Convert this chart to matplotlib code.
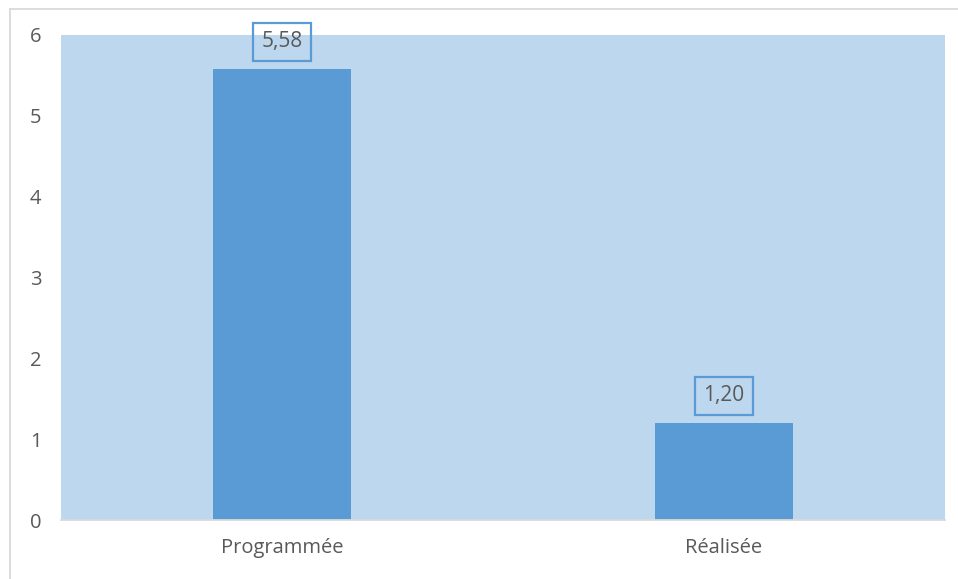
import matplotlib.pyplot as plt
from matplotlib.lines import Line2D

# categories and values
categories = ["Programmée", "Réalisée"]
values = [5.58, 1.20]
value_labels = ["5,58", "1,20"]

BAR = "#5B9BD5"
PLOT_BG = "#BDD7EE"
TEXT = "#595959"
FRAME = "#D9D9D9"

plt.rcParams['font.family'] = ['Open Sans', 'DejaVu Sans']

fig = plt.figure(figsize=(9.58, 5.79), dpi=100)
fig.patch.set_facecolor("white")

# outer chart frame
fig.add_artist(Line2D([10/958, 10/958], [0, 1 - 9/579], transform=fig.transFigure,
                      color=FRAME, lw=1.3))
fig.add_artist(Line2D([10/958, 1], [1 - 9/579, 1 - 9/579], transform=fig.transFigure,
                      color=FRAME, lw=1.3))

ax = fig.add_axes([61/958, 1 - 520/579, 884/958, 485/579])
ax.set_facecolor(PLOT_BG)

x = range(len(categories))
ax.bar(x, values, width=0.31, color=BAR, zorder=2)

ax.set_xlim(-0.5, len(categories) - 0.5)
ax.set_ylim(0, 6)
ax.set_yticks(range(0, 7))
ax.set_xticks(list(x))
ax.set_xticklabels(categories)
ax.tick_params(axis='both', length=0, labelsize=14.5, labelcolor=TEXT)
ax.tick_params(axis='y', pad=14)
ax.tick_params(axis='x', pad=13)

for side in ("top", "right", "left"):
    ax.spines[side].set_visible(False)
ax.spines["bottom"].set_color(FRAME)
ax.spines["bottom"].set_linewidth(1.3)

for xi, v, lab in zip(x, values, value_labels):
    ax.annotate(lab, (xi, v), xytext=(0, 19.5), textcoords="offset points",
                ha="center", va="center", fontsize=15, color=TEXT, zorder=4,
                bbox=dict(boxstyle="square,pad=0.4", fc="none", ec=BAR, lw=1.6))

fig.savefig("out.png", dpi=100)
